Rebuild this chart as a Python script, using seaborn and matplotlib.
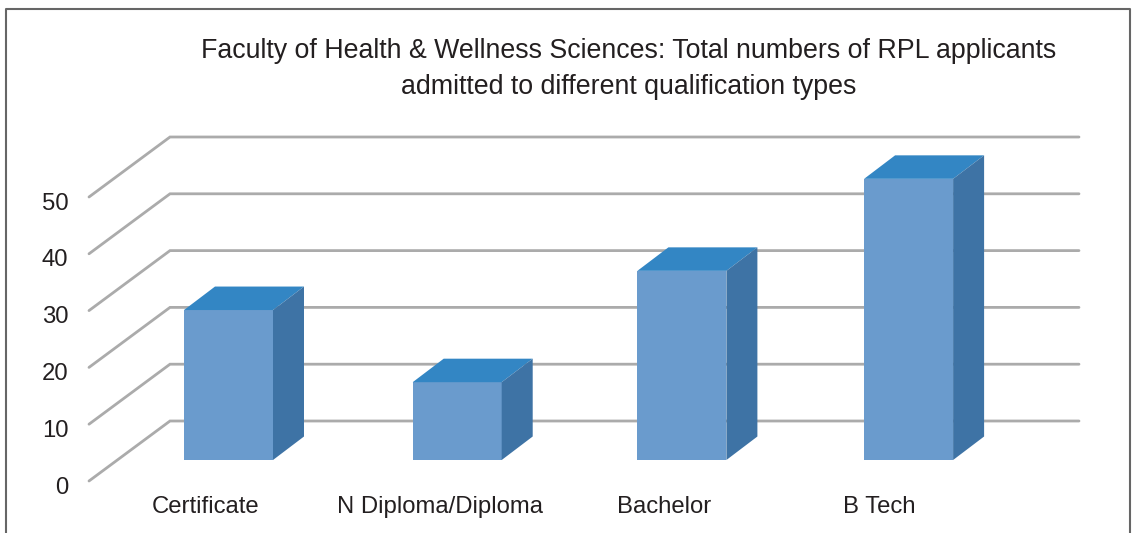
import matplotlib
matplotlib.use("Agg")
import matplotlib.pyplot as plt
from matplotlib.lines import Line2D
from matplotlib.patches import Polygon
from matplotlib.transforms import Affine2D
import seaborn as sns

# values
categories = ["Certificate", "N Diploma/Diploma", "Bachelor", "B Tech"]
applicants = [26.4, 13.7, 33.3, 49.5]
y_ticks = [0, 10, 20, 30, 40, 50]
title = "Faculty of Health & Wellness Sciences: Total numbers of RPL applicants\nadmitted to different qualification types"

W, H = 1136, 533
px_x = 226.7  # px per category
px_y = 5.68   # px per unit
bar_nudge = [0, 2, 0, 0]  # px, the bars are not quite evenly spaced
label_shift = [-23, -15, -18, -29.5]  # px, labels sit left of the bars

sns.set_theme(style="white")
plt.rcParams["font.family"] = ["Liberation Sans", "DejaVu Sans"]

fig = plt.figure(figsize=(W / 100, H / 100), dpi=100)
# axes in pixels: left 89, right 1079, front floor 481, back top 137
ax = fig.add_axes([89 / W, 1 - 481 / H, (1079 - 89) / W, (481 - 137) / H])

sns.barplot(x=categories, y=applicants, color="#6A9BCD", saturation=1, width=89 / px_x,
            linewidth=0, ax=ax, zorder=3)
ax.set_xlim((89 - 228.5) / px_x, (1079 - 228.5) / px_x)
ax.set_ylim(-21 / px_y, (460 - 137) / px_y)

# depth of the bars, in data units
bar_dx, bar_dy = 31 / px_x, 23.5 / px_y
for bar, nudge in zip(list(ax.patches), bar_nudge):
    bar.set_x(bar.get_x() + nudge / px_x)
    x0, x1 = bar.get_x(), bar.get_x() + bar.get_width()
    top = bar.get_height()
    ax.add_patch(Polygon([(x0, top), (x1, top), (x1 + bar_dx, top + bar_dy), (x0 + bar_dx, top + bar_dy)],
                         facecolor="#3386C4", edgecolor="none", zorder=3))
    ax.add_patch(Polygon([(x1, 0), (x1 + bar_dx, bar_dy), (x1 + bar_dx, top + bar_dy), (x1, top)],
                         facecolor="#3E73A5", edgecolor="none", zorder=3))

# floor and wall grid, front lines start at the axes left edge
x_left, x_right = ax.get_xlim()
x_wall = x_left + 81 / px_x
front_off, back_off = -21 / px_y, 39 / px_y
for v in y_ticks:
    ax.plot([x_left, x_wall, x_right], [v + front_off, v + back_off, v + back_off],
            color="#ABABAB", lw=2, solid_joinstyle="miter", clip_on=False, zorder=1)

ax.set_yticks(y_ticks)
ax.tick_params(axis="y", length=0, pad=15, labelsize=17.2, labelcolor="#231F20")
ax.tick_params(axis="x", length=0, pad=11, labelsize=17.2, labelcolor="#231F20")
for lab in ax.get_yticklabels():
    lab.set_transform(lab.get_transform() + Affine2D().translate(0, -25))
for lab, shift in zip(ax.get_xticklabels(), label_shift):
    lab.set_transform(lab.get_transform() + Affine2D().translate(shift, 0))
sns.despine(ax=ax, left=True, bottom=True)
ax.set_ylabel("")

fig.text(628.5 / W, 1 - 69 / H, title, ha="center", va="center", fontsize=19.25, color="#231F20", linespacing=1.5)

# outer frame, open at the bottom
fig.add_artist(Line2D([6 / W, 6 / W, 1130 / W, 1130 / W], [0, 1 - 9 / H, 1 - 9 / H, 0],
                      color="#666666", lw=1.5, transform=fig.transFigure))

fig.savefig("out.png", dpi=100)
